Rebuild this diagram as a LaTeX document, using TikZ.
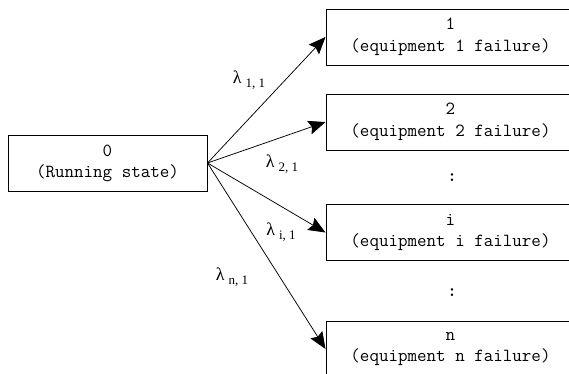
\documentclass[tikz,border=0pt]{standalone}
\usepackage{fontspec}
\setmainfont{Liberation Serif}
\usetikzlibrary{arrows.meta}
\tikzset{
  statebox/.style={draw, line width=1pt, minimum width=249pt, minimum height=56pt,
    inner sep=0pt, align=center, font=\ttfamily\fontsize{18.5}{21.5}\selectfont},
  startbox/.style={draw, line width=1pt, minimum width=199pt, minimum height=56pt,
    inner sep=0pt, align=center, font=\ttfamily\fontsize{18.5}{21}\selectfont},
  trans/.style={line width=0.75pt, -{Stealth[length=17pt, width=14pt, inset=2.5pt]}},
  ratelabel/.style={inner sep=0pt, font=\fontsize{18}{18}\selectfont},
  vdots/.style={inner sep=0pt, font=\ttfamily\bfseries\fontsize{18}{18}\selectfont}
}
\newcommand{\rate}[1]{λ\hspace{4pt}\raisebox{-4pt}{\fontsize{13}{12}\selectfont #1}}
\begin{document}
\begin{tikzpicture}[x=1pt, y=-1pt]
  \useasboundingbox (0,0) rectangle (569,373);
  \clip (0,0) rectangle (569,373);
  \fill[white] (0,0) rectangle (569,373);

  % origin state
  \node[startbox] (s0) at (107.5,163) {0\\(Running state)};

  % failure states (cut by the right and bottom edges)
  \node[statebox] (s1) at (450.5,37)  {1\\(equipment 1 failure)};
  \node[statebox] (s2) at (450.5,122) {2\\(equipment 2 failure)};
  \node[statebox] (si) at (450.5,232.5) {i\\(equipment i failure)};
  \node[statebox] (sn) at (450.5,349) {n\\(equipment n failure)};

  % elision marks between the states
  \node[vdots] (d1) at (452,178) {:};
  \node[vdots] (d2) at (452,293) {:};

  % transitions
  \draw[trans] (s0.east) -- (s1.west);
  \draw[trans] (s0.east) -- (s2.west);
  \draw[trans] (s0.east) -- (si.west);
  \draw[trans] (s0.east) -- (sn.west);

  % transition rates
  \node[ratelabel] (l1) at (249,80)  {\rate{1, 1}};
  \node[ratelabel] (l2) at (282,164) {\rate{2, 1}};
  \node[ratelabel] (li) at (281,232) {\rate{i, 1}};
  \node[ratelabel] (ln) at (232,277) {\rate{n, 1}};
\end{tikzpicture}
\end{document}
